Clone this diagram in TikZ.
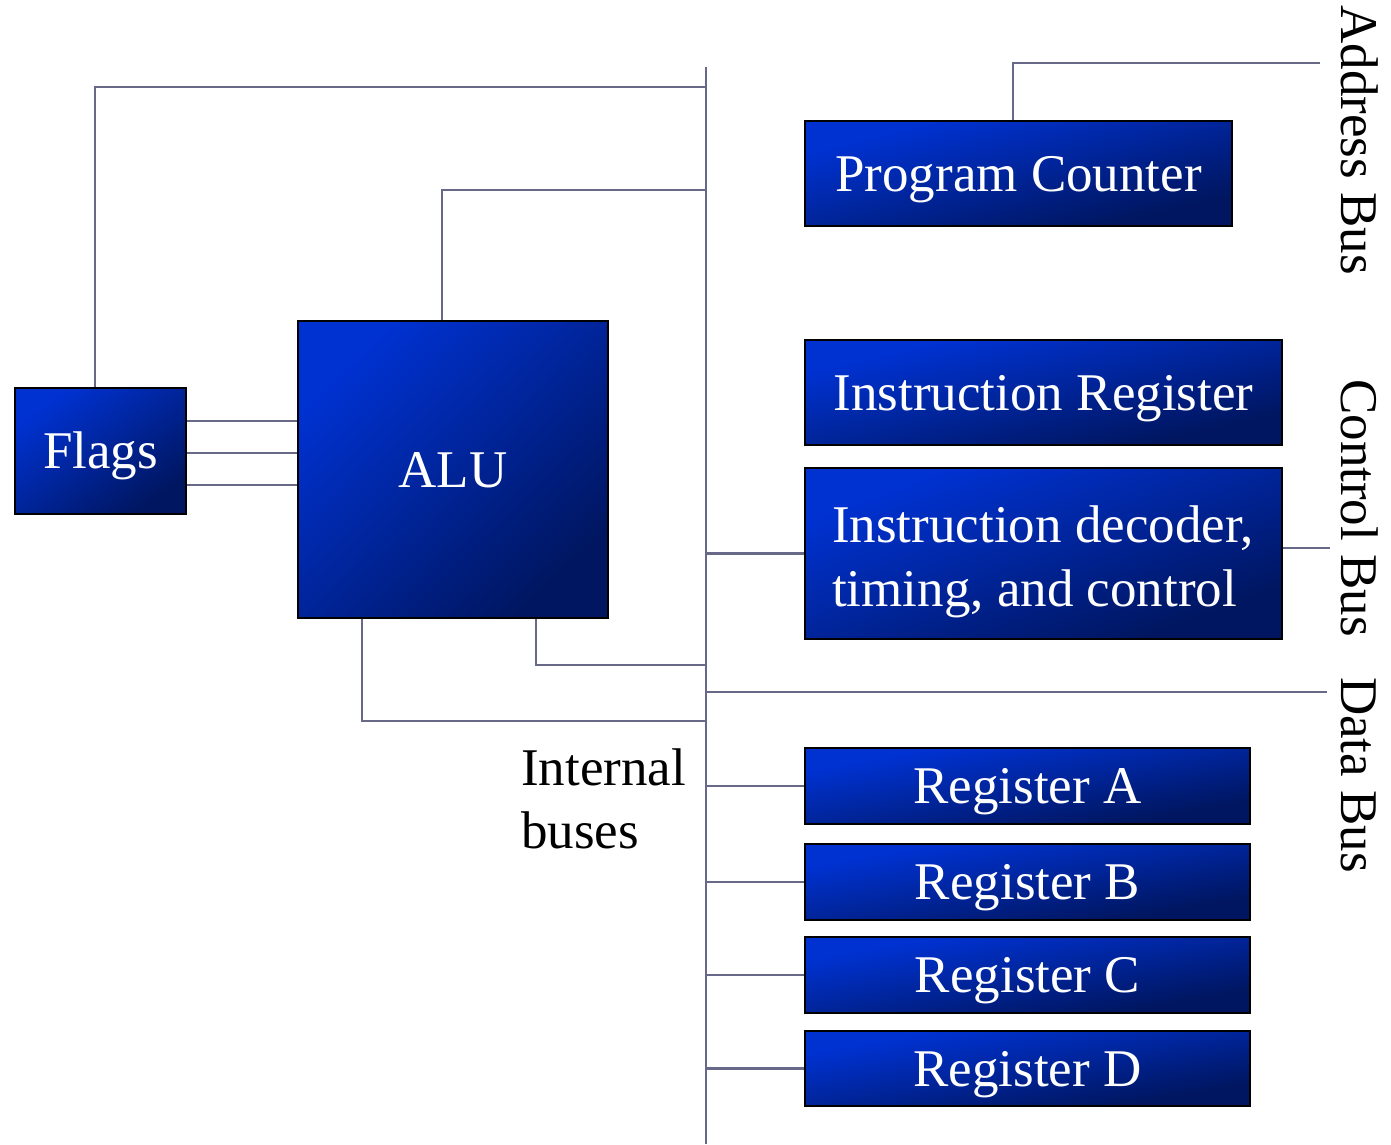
\documentclass[tikz,border=0pt]{standalone}
\usepackage{fontspec}
\setmainfont{Liberation Serif}
\usetikzlibrary{backgrounds}
\definecolor{boxlight}{RGB}{0,50,210}
\definecolor{boxdark}{RGB}{0,22,96}
\definecolor{wire}{RGB}{104,104,136}
\begin{document}
\begin{tikzpicture}[x=1pt,y=-1pt,
  box/.style 2 args={draw=black, line width=2pt, minimum width=#1pt, minimum height=#2pt,
    text=white, inner sep=0pt, text height=35pt, text depth=0pt,
    font=\fontsize{53}{64}\selectfont},
  gshade/.style n args={3}{top color=boxlight, bottom color=boxdark, shading angle=45,
    transform canvas={shift={(#1.center)}, xscale=#2/100, yscale=#3/100}},
  lbl/.style={inner sep=0pt, font=\fontsize{53}{64}\selectfont},
  wireline/.style={draw=wire, line width=2.4pt}]
\useasboundingbox (0,0) rectangle (1391,1144);
% boxes
\node[box={171}{126}] (flags) at (100.5,451) {Flags};
\node[box={310}{297}] (alu) at (453,469.5) {ALU};
\node[box={427}{105}] (pc) at (1018.5,173.5) {Program Counter};
\node[box={477}{105}] (ir) at (1043.5,392.5) {Instruction Register};
\node[box={477}{171}] (dec) at (1043.5,553.5) {};
\node[lbl, text=white, anchor=base west] (dec1) at (832,542) {Instruction decoder,};
\node[lbl, text=white, anchor=base west] (dec2) at (832,606) {timing, and control};
\node[box={445}{76}] (ra) at (1027.5,786) {Register A};
\node[box={445}{76}] (rb) at (1027.5,882) {Register B};
\node[box={445}{76}] (rc) at (1027.5,975) {Register C};
\node[box={445}{75}] (rd) at (1027.5,1068.5) {Register D};
% gradient fills
\begin{pgfonlayer}{background}
\shade[gshade={flags}{171}{126}] (-50pt,-50pt) rectangle (50pt,50pt);
\shade[gshade={alu}{310}{297}] (-50pt,-50pt) rectangle (50pt,50pt);
\shade[gshade={pc}{427}{105}] (-50pt,-50pt) rectangle (50pt,50pt);
\shade[gshade={ir}{477}{105}] (-50pt,-50pt) rectangle (50pt,50pt);
\shade[gshade={dec}{477}{171}] (-50pt,-50pt) rectangle (50pt,50pt);
\shade[gshade={ra}{445}{76}] (-50pt,-50pt) rectangle (50pt,50pt);
\shade[gshade={rb}{445}{76}] (-50pt,-50pt) rectangle (50pt,50pt);
\shade[gshade={rc}{445}{76}] (-50pt,-50pt) rectangle (50pt,50pt);
\shade[gshade={rd}{445}{75}] (-50pt,-50pt) rectangle (50pt,50pt);
\end{pgfonlayer}
% labels
\node[lbl, anchor=base west] (int1) at (521,785) {Internal};
\node[lbl, anchor=base west] (int2) at (521,848) {buses};
\node[lbl, rotate=-90, anchor=base] (addrlbl) at (1341,140) {Address Bus};
\node[lbl, rotate=-90, anchor=base] (ctllbl) at (1341,508) {Control Bus};
\node[lbl, rotate=-90, anchor=base] (datalbl) at (1341,775) {Data Bus};
% coordinates
\coordinate (bustop) at (706,67);
\coordinate (busbot) at (706,1144);
\coordinate (b1) at (706,87);
\coordinate (b2) at (706,190);
\coordinate (b3) at (706,665);
\coordinate (b4) at (706,721);
\coordinate (b5) at (706,553.5);
\coordinate (b6) at (706,692);
\coordinate (addrend) at (1320,63);
\coordinate (ctlend) at (1330,548);
\coordinate (dataend) at (1327,692);
% wires
\begin{scope}[wireline]
\draw (bustop) -- (busbot);
\draw ([xshift=-5.5pt]flags.north) |- (b1);
\draw ([xshift=-11pt]alu.north) |- (b2);
\draw ([yshift=30pt]flags.east) -- ([yshift=30pt]flags.east -| alu.west);
\draw ([yshift=-2pt]flags.east) -- ([yshift=-2pt]flags.east -| alu.west);
\draw ([yshift=-34pt]flags.east) -- ([yshift=-34pt]flags.east -| alu.west);
\draw ([xshift=83pt]alu.south) |- (b3);
\draw ([xshift=-91pt]alu.south) |- (b4);
\draw ([xshift=-5.5pt]pc.north) |- (addrend);
\draw (b5) -- (dec.west);
\draw ([yshift=5.5pt]dec.east) -- (ctlend);
\draw (b6) -- (dataend);
\draw (ra.west -| bustop) -- (ra.west);
\draw (rb.west -| bustop) -- (rb.west);
\draw (rc.west -| bustop) -- (rc.west);
\draw (rd.west -| bustop) -- (rd.west);
\end{scope}
\end{tikzpicture}
\end{document}
